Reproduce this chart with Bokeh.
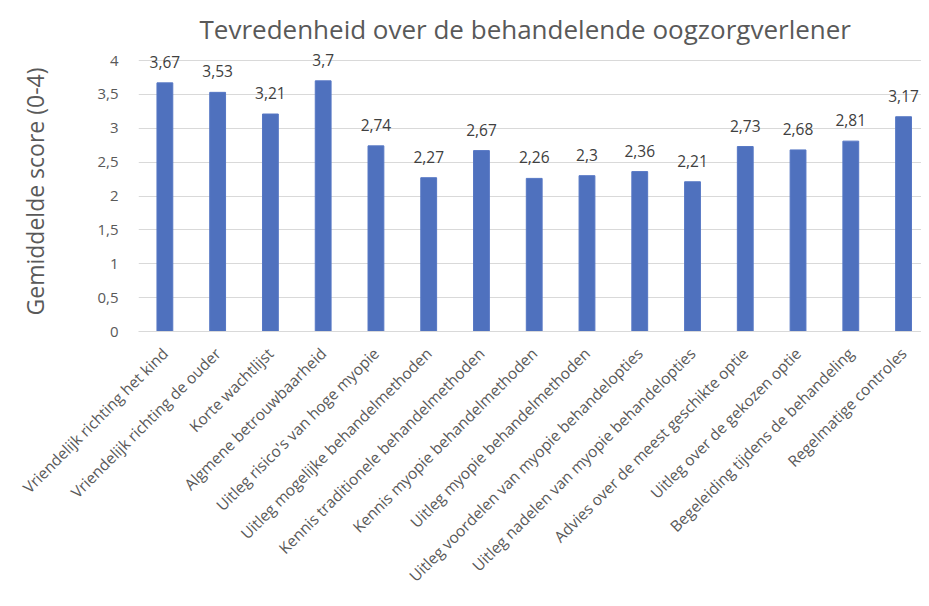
import math
from bokeh.plotting import figure
from bokeh.models import ColumnDataSource, Range1d, FixedTicker
from bokeh.embed import file_html
from bokeh.resources import INLINE

categories = [
    "Vriendelijk richting het kind",
    "Vriendelijk richting de ouder",
    "Korte wachtlijst",
    "Algmene betrouwbaarheid",
    "Uitleg risico's van hoge myopie",
    "Uitleg mogelijke behandelmethoden",
    "Kennis traditionele behandelmethoden",
    "Kennis myopie behandelmethoden",
    "Uitleg myopie behandelmethoden",
    "Uitleg voordelen van myopie behandelopties",
    "Uitleg nadelen van myopie behandelopties",
    "Advies over de meest geschikte optie",
    "Uitleg over de gekozen optie",
    "Begeleiding tijdens de behandeling",
    "Regelmatige controles",
]
scores = [3.67, 3.53, 3.21, 3.70, 2.74, 2.27, 2.67, 2.26, 2.30, 2.36, 2.21, 2.73, 2.68, 2.81, 3.17]
y_ticks = [0, 0.5, 1, 1.5, 2, 2.5, 3, 3.5, 4]

title_text = "Tevredenheid over de behandelende oogzorgverlener"
y_label = "Gemiddelde score (0-4)"

FONT = "Open Sans"
GREY = "#595959"

xs = list(range(len(categories)))
labels = [f"{v:g}".replace(".", ",") for v in scores]
src = ColumnDataSource(dict(x=xs, top=scores, label=labels))

p = figure(width=921, height=598, output_backend="svg", toolbar_location=None,
           x_range=Range1d(-0.5, 14.133), y_range=Range1d(0, 4.133),
           min_border_left=138, min_border_right=0, min_border_bottom=267,
           min_border_top=51, title=title_text)
p.x_range.end = 14.34

p.title.text_font = FONT
p.title.text_font_size = "26px"
p.title.text_font_style = "normal"
p.title.text_color = GREY
p.title.align = "left"
p.title.offset = 61
p.title.standoff = 6
p.title.vertical_align = "top"

p.vbar(x="x", top="top", width=0.30, source=src, fill_color="#4F71BE", line_color="#5677C4")
p.text(x="x", y="top", text="label", source=src, text_align="center", text_baseline="bottom",
       y_offset=-15, text_font={"value": FONT}, text_font_size="15.5px", text_color="#404040")

p.outline_line_color = None
p.background_fill_color = "white"
p.border_fill_color = "white"

p.xgrid.visible = False
p.ygrid.ticker = FixedTicker(ticks=y_ticks)
p.ygrid.grid_line_color = "#d9d9d9"
p.ygrid.grid_line_width = 1

p.yaxis.ticker = FixedTicker(ticks=y_ticks)
p.yaxis.major_label_overrides = {t: f"{t:g}".replace(".", ",") for t in y_ticks}
p.yaxis.axis_line_color = None
p.yaxis.major_tick_line_color = None
p.yaxis.minor_tick_line_color = None
p.yaxis.major_label_text_font = FONT
p.yaxis.major_label_text_font_size = "15px"
p.yaxis.major_label_text_color = GREY
p.yaxis.major_label_standoff = 14
p.yaxis.axis_label = y_label
p.yaxis.axis_label_text_font = FONT
p.yaxis.axis_label_text_font_size = "23px"
p.yaxis.axis_label_text_font_style = "normal"
p.yaxis.axis_label_text_color = GREY
p.yaxis.axis_label_standoff = 43

p.xaxis.ticker = FixedTicker(ticks=xs)
p.xaxis.major_label_overrides = {i: c for i, c in enumerate(categories)}
p.xaxis.major_label_orientation = math.pi / 4
p.xaxis.axis_line_color = "#d9d9d9"
p.xaxis.major_tick_line_color = None
p.xaxis.minor_tick_line_color = None
p.xaxis.major_label_text_font = FONT
p.xaxis.major_label_text_font_size = "15.5px"
p.xaxis.major_label_text_color = GREY
p.xaxis.major_label_standoff = 13

open("out.html", "w").write(file_html(p, INLINE))
